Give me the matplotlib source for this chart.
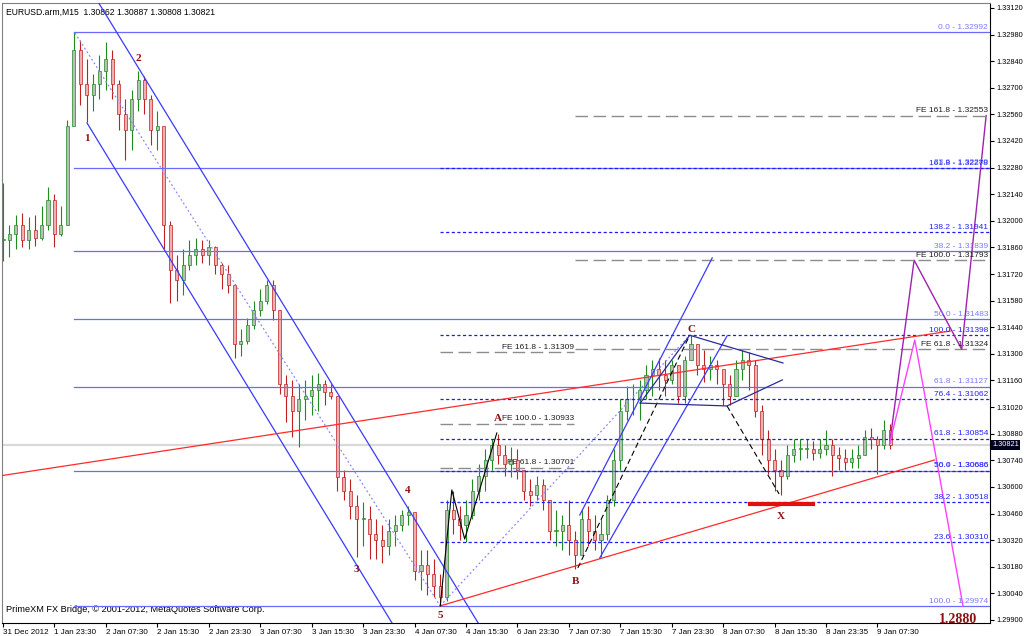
import matplotlib
matplotlib.use('Agg')
import matplotlib.pyplot as plt
import matplotlib.transforms as mtransforms
from matplotlib.patches import Rectangle

plt.rcParams['font.family'] = ['Liberation Sans', 'DejaVu Sans']

symbol_info = 'EURUSD.arm,M15  1.30862 1.30887 1.30808 1.30821'
footer = 'PrimeXM FX Bridge, \u00a9 2001-2012, MetaQuotes Software Corp.'

# one bar per hour
highs = [1.3220, 1.3198, 1.3203, 1.3204, 1.3202, 1.3203, 1.3208, 1.3218, 1.3214, 1.3208,
         1.3253, 1.32992, 1.3295, 1.3285, 1.3277, 1.3287, 1.3294, 1.3290, 1.3274, 1.3264,
         1.3269, 1.3279, 1.3276, 1.3266, 1.3258, 1.3243, 1.3200, 1.3182, 1.3185, 1.3190,
         1.3191, 1.3190, 1.3190, 1.3187, 1.3178, 1.3177, 1.3166, 1.3143, 1.3149, 1.3158,
         1.3164, 1.3169, 1.3169, 1.3153, 1.3119, 1.3116, 1.3114, 1.3116, 1.3119, 1.3120,
         1.3116, 1.3114, 1.3108, 1.3069, 1.3064, 1.3056, 1.3052, 1.3050, 1.3043, 1.3040,
         1.3043, 1.3045, 1.3048, 1.3050, 1.3045, 1.3027, 1.3027, 1.3022, 1.3014, 1.3053,
         1.3058, 1.3050, 1.3053, 1.3064, 1.3072, 1.3080, 1.3085, 1.3088, 1.3082, 1.3081,
         1.3080, 1.3069, 1.3064, 1.3066, 1.3064, 1.3050, 1.3048, 1.3045, 1.3053, 1.3037,
         1.3048, 1.3050, 1.3045, 1.3043, 1.3056, 1.3080, 1.3106, 1.3113, 1.3114, 1.3116,
         1.3124, 1.3127, 1.3128, 1.3127, 1.3127, 1.3124, 1.3129, 1.31398, 1.3135, 1.3132,
         1.3129, 1.3127, 1.3120, 1.3119, 1.3127, 1.3132, 1.3131, 1.3127, 1.3103, 1.3090,
         1.3080, 1.3074, 1.3082, 1.3085, 1.3085, 1.3085, 1.3084, 1.3085, 1.3090, 1.3085,
         1.3081, 1.3080, 1.3080, 1.3082, 1.3090, 1.3091, 1.3087, 1.3095, 1.3093]
lows = [1.3179, 1.3181, 1.3185, 1.3186, 1.3185, 1.3187, 1.3190, 1.3195, 1.3186, 1.3192,
        1.3198, 1.3253, 1.3261, 1.3252, 1.3258, 1.3264, 1.3269, 1.3264, 1.3248, 1.3232,
        1.3237, 1.3258, 1.3256, 1.3240, 1.3237, 1.3185, 1.3157, 1.3158, 1.3161, 1.3174,
        1.3177, 1.3178, 1.3177, 1.3172, 1.3164, 1.3162, 1.3128, 1.3129, 1.3135, 1.3143,
        1.3150, 1.3156, 1.3148, 1.3109, 1.3094, 1.3086, 1.3081, 1.3095, 1.3098, 1.3100,
        1.3103, 1.3106, 1.3058, 1.3053, 1.3043, 1.3023, 1.3029, 1.3022, 1.3022, 1.3020,
        1.3024, 1.3029, 1.3037, 1.3040, 1.3011, 1.3006, 1.3003, 1.3002, 1.29974, 1.3000,
        1.3035, 1.3032, 1.3031, 1.3043, 1.3053, 1.3058, 1.3069, 1.3072, 1.3066, 1.3065,
        1.3064, 1.3053, 1.3050, 1.3053, 1.3048, 1.3032, 1.3029, 1.3027, 1.3024, 1.3017,
        1.3027, 1.3029, 1.3027, 1.3023, 1.3032, 1.3050, 1.3069, 1.3095, 1.3098, 1.3095,
        1.3106, 1.3108, 1.3111, 1.3108, 1.3114, 1.3104, 1.3104, 1.3127, 1.3119, 1.3115,
        1.3116, 1.3114, 1.3103, 1.3103, 1.3108, 1.3116, 1.3111, 1.3097, 1.3077, 1.3067,
        1.3058, 1.3056, 1.3064, 1.3073, 1.3074, 1.3075, 1.3074, 1.3075, 1.3077, 1.3066,
        1.3069, 1.3069, 1.3070, 1.3070, 1.3077, 1.3080, 1.3067, 1.3080, 1.3080]
closes = [1.3190, 1.3193, 1.3198, 1.3190, 1.3195, 1.3191, 1.3198, 1.3211, 1.3193, 1.3198,
          1.3250, 1.3290, 1.3272, 1.3266, 1.3272, 1.3279, 1.3285, 1.3272, 1.3256, 1.3248,
          1.3264, 1.3274, 1.3264, 1.3248, 1.3250, 1.3198, 1.3174, 1.3169, 1.3177, 1.3182,
          1.3185, 1.3182, 1.3186, 1.3177, 1.3172, 1.3166, 1.3135, 1.3137, 1.3145, 1.3153,
          1.3158, 1.3166, 1.3153, 1.3114, 1.3108, 1.3100, 1.3106, 1.3108, 1.3111, 1.3114,
          1.3110, 1.3108, 1.3065, 1.3058, 1.3050, 1.3043, 1.3043, 1.3035, 1.3032, 1.3029,
          1.3037, 1.3040, 1.3045, 1.3047, 1.3016, 1.3019, 1.3014, 1.3008, 1.3002, 1.3048,
          1.3043, 1.3040, 1.3045, 1.3058, 1.3066, 1.3074, 1.3082, 1.3077, 1.3072, 1.3074,
          1.3069, 1.3058, 1.3056, 1.3061, 1.3053, 1.3037, 1.3037, 1.3040, 1.3032, 1.3024,
          1.3043, 1.3037, 1.3032, 1.3035, 1.3053, 1.3074, 1.3100, 1.3106, 1.3106, 1.3111,
          1.3119, 1.3122, 1.3119, 1.3116, 1.3124, 1.3108, 1.3127, 1.3135, 1.3124, 1.3122,
          1.3124, 1.3122, 1.3114, 1.3108, 1.3122, 1.3127, 1.3124, 1.3100, 1.3085, 1.3074,
          1.3069, 1.3066, 1.3077, 1.3080, 1.3080, 1.3080, 1.3078, 1.3080, 1.3082, 1.3077,
          1.3075, 1.3073, 1.3075, 1.3077, 1.3086, 1.3085, 1.3082, 1.3090, 1.30821]
last_price = 1.30821

time_labels = ['31 Dec 2012', '1 Jan 23:30', '2 Jan 07:30', '2 Jan 15:30', '2 Jan 23:30',
               '3 Jan 07:30', '3 Jan 15:30', '3 Jan 23:30', '4 Jan 07:30', '4 Jan 15:30',
               '6 Jan 23:30', '7 Jan 07:30', '7 Jan 15:30', '7 Jan 23:30', '8 Jan 07:30',
               '8 Jan 15:30', '8 Jan 23:35', '9 Jan 07:30']
price_ticks = [1.29900, 1.30040, 1.30180, 1.30320, 1.30460, 1.30600, 1.30740, 1.30880,
               1.31020, 1.31160, 1.31300, 1.31440, 1.31580, 1.31720, 1.31860, 1.32000,
               1.32140, 1.32280, 1.32420, 1.32560, 1.32700, 1.32840, 1.32980, 1.33120]

# fibo retracement from the top to wave 5
fib1_levels = ['0.0', '23.6', '38.2', '50.0', '61.8', '76.4', '100.0']
fib1_prices = [1.32992, 1.32280, 1.31839, 1.31483, 1.31127, 1.30686, 1.29974]
fib1_start = 11
# fibo from wave 5 to C
fib2_levels = ['23.6', '38.2', '50.0', '61.8', '76.4', '100.0', '138.2', '161.8']
fib2_prices = [1.30310, 1.30518, 1.30686, 1.30854, 1.31062, 1.31398, 1.31941, 1.32278]
fib2_start = 68
# fibo expansions
fe1_levels = ['61.8', '100.0', '161.8']
fe1_prices = [1.30701, 1.30933, 1.31309]
fe1_span = (68, 88.8)
fe2_levels = ['61.8', '100.0', '161.8']
fe2_prices = [1.31324, 1.31793, 1.32553]
fe2_start = 89

# trend objects as (hour, price) anchors
chan_upper = [(14.6, 1.33162), (73.9, 1.29884)]
chan_lower = [(13.06, 1.32515), (60.5, 1.29884)]
chan_mid = [(11.2, 1.32988), (68, 1.29974)]
red_upper = [(-0.5, 1.30658), (147.3, 1.31420)]
red_lower = [(68, 1.29974), (144.9, 1.30742)]
red_x = [(116.2, 1.30510), (126, 1.30510)]
five_to_c = [(68, 1.29974), (106.8, 1.31398)]
zigzag = [(68, 1.29974), (69.8, 1.30584), (71.8, 1.30326), (76.8, 1.30884)]
b_to_c = [(89.4, 1.30174), (106.8, 1.31398)]
c_to_x = [(112.6, 1.31026), (120.7, 1.30563)]
fork_a = [(89.7, 1.30452), (110.3, 1.31805)]
fork_b = [(92.8, 1.30226), (112.6, 1.31394)]
tri_low = [(99.1, 1.31041), (112.6, 1.31026), (121.2, 1.31163)]
tri_high = [(99.1, 1.31041), (106.8, 1.31398), (121.3, 1.31252)]
proj_purple = [(137.9, 1.30830), (141.7, 1.31793), (149.1, 1.31324), (152.9, 1.32553)]
proj_pink = [(137.9, 1.30830), (141.8, 1.31373), (149.3, 1.29974)]

# wave labels: text, bar, at high?, offset in points
wave_labels = [('1', 13, False, -12), ('2', 21, True, 9), ('3', 55, False, -9),
               ('4', 63, True, 11), ('5', 68, False, -7), ('A', 77, True, 11),
               ('B', 89, False, -9), ('C', 107, True, 4), ('X', 121, False, -16)]

fig = plt.figure(figsize=(10.24, 6.36), dpi=100)
ax = fig.add_axes([2 / 1024, 13 / 636, 988 / 1024, 620 / 636])
ax.set_xlim(-0.16, 153.5)
ax.set_ylim(1.29884, 1.33146)

# candles
opens = [closes[0]] + closes[:-1]
for i in range(len(closes)):
  o, c = opens[i], closes[i]
  if c >= o:
    edge, face = '#1f8a1f', '#b3c0b3'
  else:
    edge, face = '#c02020', '#eeb0b0'
  ax.vlines(i, lows[i], highs[i], color=edge, lw=0.8, zorder=2)
  body = max(abs(c - o), 0.00004)
  ax.add_patch(Rectangle((i - 0.24, min(o, c)), 0.48, body, fc=face, ec=edge, lw=0.5, zorder=3))

# bid line
ax.axhline(last_price, color='#d9d9d9', lw=1.6, zorder=1)

right_x = 153.2

def label(x, y, s, color, ha='right'):
  ax.annotate(s, xy=(x, y), xytext=(0, 1), textcoords='offset points', ha=ha, va='bottom',
              fontsize=6, color=color, zorder=8)

for lvl, p in zip(fib1_levels, fib1_prices):
  ax.plot([fib1_start, 153.5], [p, p], color='#6a6aff', lw=0.9, zorder=4)
  label(right_x, p, lvl + ' - %.5f' % p, '#7a7aff')
for lvl, p in zip(fib2_levels, fib2_prices):
  ax.plot([fib2_start, 153.5], [p, p], color='#1a1aff', lw=0.9, ls=(0, (2.5, 2)), zorder=4)
  label(right_x, p, lvl + ' - %.5f' % p, '#2222ff')

for lvl, p in zip(fe1_levels, fe1_prices):
  ax.plot(fe1_span, [p, p], color='#8c8c8c', lw=1.0, ls=(0, (9, 4)), zorder=4)
  label(fe1_span[1], p, 'FE ' + lvl + ' - %.5f' % p, '#202020')
for lvl, p in zip(fe2_levels, fe2_prices):
  ax.plot([fe2_start, 153.5], [p, p], color='#8c8c8c', lw=1.0, ls=(0, (9, 4)), zorder=4)
  label(right_x, p, 'FE ' + lvl + ' - %.5f' % p, '#202020')

def seg(pts, **kw):
  ax.plot([p[0] for p in pts], [p[1] for p in pts], zorder=5, **kw)

seg(chan_upper, color='#3a3aff', lw=0.9)
seg(chan_lower, color='#3a3aff', lw=0.9)
seg(chan_mid, color='#8a8aff', lw=0.9, ls=(0, (1.5, 2)))
seg(five_to_c, color='#8a8aff', lw=0.9, ls=(0, (1.5, 2)))
seg(red_upper, color='#ff2a2a', lw=0.9)
seg(red_lower, color='#ff2a2a', lw=0.9)
seg(red_x, color='#e01010', lw=3.0)
seg(zigzag, color='#000000', lw=0.8)
seg(b_to_c, color='#000000', lw=0.8, ls=(0, (5, 3)))
seg(c_to_x, color='#000000', lw=0.8, ls=(0, (5, 3)))
seg(fork_a, color='#3a3aff', lw=0.9)
seg(fork_b, color='#3a3aff', lw=0.9)
seg(tri_low, color='#2a2aa0', lw=0.9)
seg(tri_high, color='#2a2aa0', lw=0.9)
seg(proj_purple, color='#a020b0', lw=1.0)
seg(proj_pink, color='#ff40ff', lw=1.0)

for txt, bar, at_high, off in wave_labels:
  y = highs[bar] if at_high else lows[bar]
  ax.annotate(txt, xy=(bar, y), xytext=(0, off), textcoords='offset points', ha='center',
              va='center', fontsize=8, fontweight='bold', color='#8b1010',
              family='Liberation Serif', zorder=9)
ax.text(148.5, 1.29900, '1.2880', fontsize=10, fontweight='bold', color='#8b1010',
        family='Liberation Serif', ha='center', va='center', zorder=9)

ax.text(0.004, 0.992, symbol_info, transform=ax.transAxes, fontsize=6.2, va='top', ha='left')
ax.text(0.004, 0.022, footer, transform=ax.transAxes, fontsize=6.6, va='center', ha='left')

# axes styling like the terminal
ax.yaxis.tick_right()
ax.set_yticks(price_ticks)
ax.set_yticklabels(['%.5f' % t for t in price_ticks], fontsize=5.3)
ax.set_xticks([8 * k for k in range(len(time_labels))])
ax.set_xticklabels(time_labels, fontsize=5.8, ha='left')
ax.tick_params(axis='y', length=3, width=0.8, pad=1.5, direction='out')
ax.tick_params(axis='x', length=3, width=0.8, pad=1, direction='out')
for s in ['top', 'left']:
  ax.spines[s].set_linestyle((0, (1, 1)))
  ax.spines[s].set_color('#808080')
for s in ['right', 'bottom']:
  ax.spines[s].set_color('#000000')
  ax.spines[s].set_linewidth(0.8)

trans = mtransforms.blended_transform_factory(ax.transAxes, ax.transData)
ax.text(1.002, last_price, '1.30821', transform=trans, fontsize=5.3, color='white',
        va='center', ha='left', bbox=dict(fc='#000020', ec='none', pad=1.0), zorder=10,
        clip_on=False)

fig.savefig('out.png', dpi=100)
